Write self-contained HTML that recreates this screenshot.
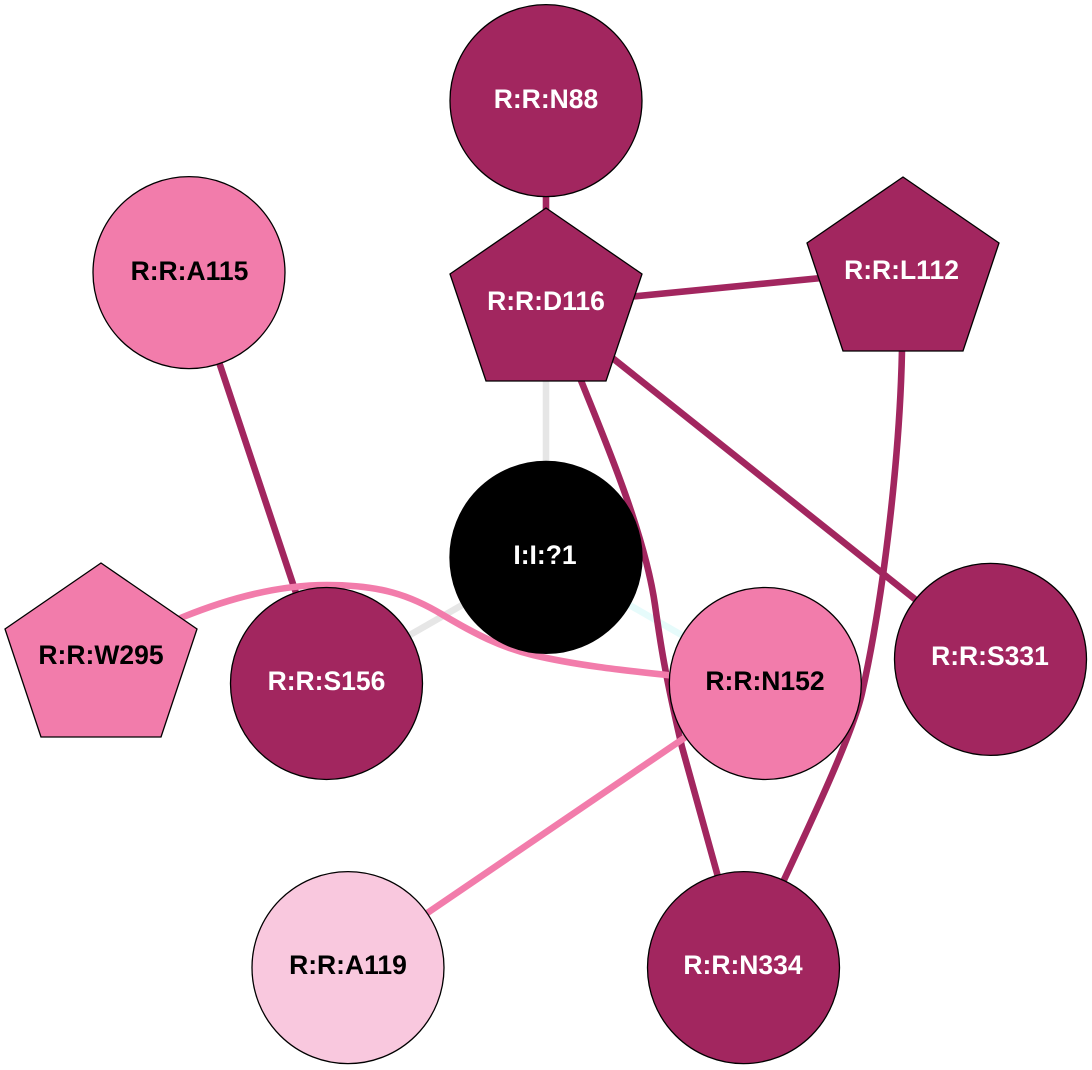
<!DOCTYPE html>
<html>
<head>
<meta charset="utf-8">
<style>
html,body{margin:0;padding:0;background:#fff;}
svg{display:block;}
text{font-family:"Liberation Sans",sans-serif;font-weight:bold;font-size:26.5px;text-anchor:middle;}
.w{fill:#fff;}
.k{fill:#000;}
.n{stroke:#000;stroke-width:1.3;}
.e{fill:none;stroke-width:6.6;}
</style>
</head>
<body>
<svg width="1092" height="1070" viewBox="0 0 1092 1070" xmlns="http://www.w3.org/2000/svg">
<rect width="1092" height="1070" fill="#fff"/>
<!-- edges -->
<path class="e" stroke="#e6e6e6" d="M546 305L546 557"/>
<path class="e" stroke="#e6e6e6" d="M546 557L326 683"/>
<path class="e" stroke="#e6fbfb" d="M546 557L765 683"/>
<path class="e" stroke="#a2265f" d="M546 100L546 305"/>
<path class="e" stroke="#a2265f" d="M546 305L903 270"/>
<path class="e" stroke="#a2265f" d="M546 305L990 659"/>
<path class="e" stroke="#a2265f" d="M189 272L326 683"/>
<path class="e" stroke="#a2265f" d="M572 358L582 383C607 445 645 535 655 605C660 640 664 670 682 747L743 967"/>
<path class="e" stroke="#a2265f" d="M902 330L902 350C900 450 885 590 862 693C853 733 815 815 743 967"/>
<path class="e" stroke="#f27cab" d="M765 683L348 967"/>
<path class="e" stroke="#f27cab" d="M150 632L183 617C230 598 280 585 327 585C380 585 410 595 443 615C475 634 500 647 533 655C575 665 620 670 667 675L765 687"/>
<!-- nodes -->
<circle class="n" cx="546" cy="100.6" r="96" fill="#a2265f"/>
<text class="w" x="546" y="108">R:R:N88</text>
<circle class="n" cx="189" cy="272.6" r="96" fill="#f27cab"/>
<text class="k" x="189.5" y="280">R:R:A115</text>
<polygon class="n" points="546,208 642,274 606,381 486,381 450,274" fill="#a2265f"/>
<text class="w" x="546" y="310">R:R:D116</text>
<polygon class="n" points="903,177 999,243 963,351 843,351 807,243" fill="#a2265f"/>
<text class="w" x="901.5" y="279">R:R:L112</text>
<circle class="n" cx="546" cy="557.4" r="96" fill="#000"/>
<text class="w" x="545" y="564">I:I:?1</text>
<polygon class="n" points="101,563 197,629 161,737 41,737 5,629" fill="#f27cab"/>
<text class="k" x="101" y="664">R:R:W295</text>
<circle class="n" cx="326.5" cy="683.5" r="96" fill="#a2265f"/>
<text class="w" x="326.5" y="690">R:R:S156</text>
<circle class="n" cx="765.3" cy="683.5" r="96" fill="#f27cab"/>
<text class="k" x="765" y="690">R:R:N152</text>
<circle class="n" cx="990.5" cy="659.4" r="96" fill="#a2265f"/>
<text class="w" x="990" y="665">R:R:S331</text>
<circle class="n" cx="348" cy="967.6" r="96" fill="#f9c8de"/>
<text class="k" x="348" y="974">R:R:A119</text>
<circle class="n" cx="743.5" cy="967.6" r="96" fill="#a2265f"/>
<text class="w" x="743" y="974">R:R:N334</text>
</svg>
</body>
</html>
